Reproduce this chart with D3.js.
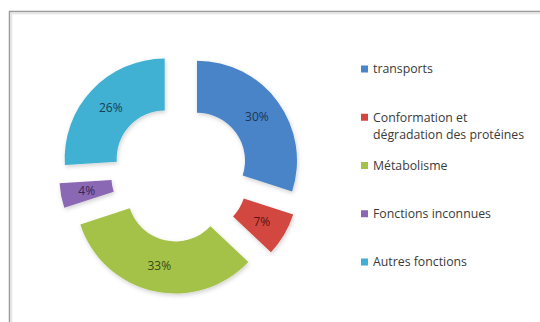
<!DOCTYPE html>
<html lang="fr">
<head>
<meta charset="UTF-8">
<title>Donut</title>
<style>
  body { margin: 0; background: #fff; }
  svg { display: block; font-family: 'Open Sans', sans-serif; }
</style>
</head>
<body>
<div id="chart"></div>
<script src="https://cdn.jsdelivr.net/npm/d3@7/dist/d3.min.js"></script>
<script>
// data
let categories = ['transports', 'Conformation et dégradation des protéines', 'Métabolisme', 'Fonctions inconnues', 'Autres fonctions']
let values = [30, 7, 33, 4, 26]
let colors = ['#4a84c9', '#d2463f', '#a3c247', '#8b67b3', '#3fb0d3']
let labelColors = ['#1d3552', '#5a1410', '#3b4a14', '#3a2656', '#163f52']

let width = 540
let height = 322
let svg = d3.select('#chart').append('svg').attr('width', width).attr('height', height)

// shadow
let defs = svg.append('defs')
let f = defs.append('filter').attr('id', 'sh').attr('x', '-20%').attr('y', '-20%').attr('width', '140%').attr('height', '140%')
f.append('feDropShadow').attr('dx', 1).attr('dy', 2).attr('stdDeviation', 2).attr('flood-color', '#000').attr('flood-opacity', 0.18)

// frame
svg.append('line').attr('x1', 9).attr('y1', 11.5).attr('x2', width).attr('y2', 11.5).attr('stroke', '#9a9a9a').attr('stroke-width', 1.5)
svg.append('line').attr('x1', 9.5).attr('y1', 11).attr('x2', 9.5).attr('y2', height).attr('stroke', '#9a9a9a').attr('stroke-width', 1.5)
svg.append('line').attr('x1', 10).attr('y1', 13.5).attr('x2', width).attr('y2', 13.5).attr('stroke', '#e4e4e4').attr('stroke-width', 1.5)
svg.append('line').attr('x1', 11.5).attr('y1', 13).attr('x2', 11.5).attr('y2', height).attr('stroke', '#e4e4e4').attr('stroke-width', 1.5)

// donut
let cx = 180, cy = 173
let outerR = 100, innerR = 48, explode = 21
let pie = d3.pie().sort(null).value(d => d)
let arc = d3.arc().innerRadius(innerR).outerRadius(outerR)
let arcs = pie(values)

let g = svg.append('g').attr('transform', 'translate(' + cx + ',' + cy + ')')
let slice = g.selectAll('g.slice').data(arcs).enter().append('g').attr('class', 'slice')
  .attr('transform', d => {
    let a = (d.startAngle + d.endAngle) / 2
    return 'translate(' + (Math.sin(a) * explode) + ',' + (-Math.cos(a) * explode) + ')'
  })

slice.append('path').attr('d', arc).attr('fill', (d, i) => colors[i]).attr('filter', 'url(#sh)')

let total = d3.sum(values)
slice.append('text')
  .attr('transform', d => 'translate(' + arc.centroid(d) + ')')
  .attr('text-anchor', 'middle')
  .attr('dy', '0.35em')
  .attr('font-size', 12)
  .attr('fill', (d, i) => labelColors[i])
  .text(d => Math.round(d.value / total * 100) + '%')

// legend
let lg = svg.append('g').attr('transform', 'translate(361,0)')
let legendY = d3.scalePoint().domain(d3.range(categories.length)).range([69, 262])
categories.forEach((name, i) => {
  let y = legendY(i)
  let words = name.split(' ')
  let lines = name.length > 24 ? [words.slice(0, 2).join(' '), words.slice(2).join(' ')] : [name]
  lg.append('rect').attr('x', 0).attr('y', y - 3.5).attr('width', 7).attr('height', 7).attr('fill', colors[i])
  lines.forEach((t, k) => {
    lg.append('text').attr('x', 12).attr('y', y + k * 17).attr('dy', '0.35em')
      .attr('font-size', 12.3).attr('fill', '#3a3a3a').text(t)
  })
})
</script>
</body>
</html>
